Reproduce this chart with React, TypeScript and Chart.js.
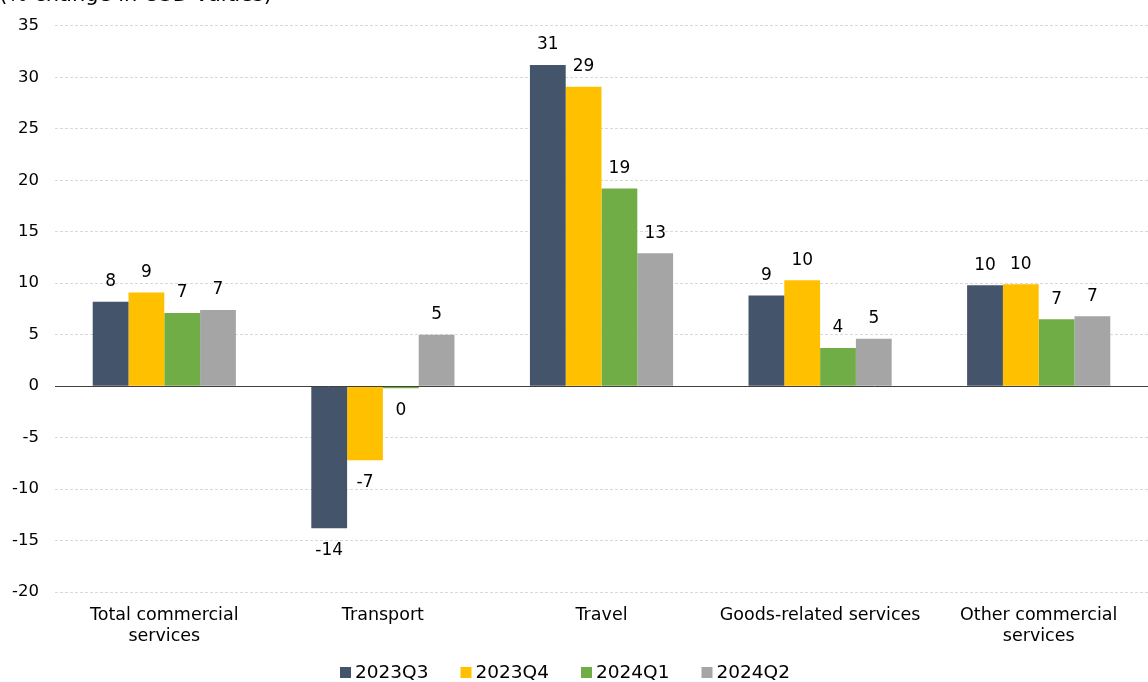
import React, { useEffect, useRef } from "react";
import { Chart, registerables } from "chart.js";

Chart.register(...registerables);

const categories: (string | string[])[] = [
  ["Total commercial", "services"],
  "Transport",
  "Travel",
  "Goods-related services",
  ["Other commercial", "services"],
];
const seriesNames = ["2023Q3", "2023Q4", "2024Q1", "2024Q2"];
const q2023Q3 = [8.2, -13.8, 31.2, 8.8, 9.8];
const q2023Q4 = [9.1, -7.2, 29.1, 10.3, 9.9];
const q2024Q1 = [7.1, -0.2, 19.2, 3.7, 6.5];
const q2024Q2 = [7.4, 5.0, 12.9, 4.6, 6.8];
const colors = ["#44546A", "#FFC000", "#70AD47", "#A5A5A5"];
const yTicks = [35, 30, 25, 20, 15, 10, 5, 0, -5, -10, -15, -20];
const titleText = "(% change in USD values)";

const FONT = "'DejaVu Sans', Verdana, sans-serif";

const labelPlugin = {
  id: "barLabels",
  afterDatasetsDraw(chart: any) {
    const ctx = chart.ctx;
    ctx.save();
    const y0 = chart.scales.y.getPixelForValue(0);
    ctx.strokeStyle = "#404040";
    ctx.lineWidth = 1;
    ctx.beginPath();
    ctx.moveTo(chart.chartArea.left, Math.round(y0) + 0.5);
    ctx.lineTo(chart.chartArea.right, Math.round(y0) + 0.5);
    ctx.stroke();
    ctx.font = `17px ${FONT}`;
    ctx.fillStyle = "#000";
    ctx.textAlign = "center";
    ctx.textBaseline = "middle";
    chart.data.datasets.forEach((ds: any, di: number) => {
      const meta = chart.getDatasetMeta(di);
      meta.data.forEach((el: any, i: number) => {
        const v = ds.data[i];
        const r = Math.round(v);
        const txt = String(r === 0 ? 0 : r);
        const y = v >= 0 ? el.y - 20 : el.y + 22;
        ctx.fillText(txt, el.x, y);
      });
    });
    ctx.restore();
  },
};

const titlePlugin = {
  id: "cutTitle",
  beforeDraw(chart: any) {
    const ctx = chart.ctx;
    ctx.save();
    ctx.font = `21px ${FONT}`;
    ctx.fillStyle = "#000";
    ctx.textAlign = "right";
    ctx.textBaseline = "alphabetic";
    ctx.fillText(titleText, 272, 1);
    ctx.restore();
  },
};

const legendPlugin = {
  id: "customLegend",
  afterDraw(chart: any) {
    const ctx = chart.ctx;
    ctx.save();
    ctx.font = `18.5px ${FONT}`;
    ctx.textAlign = "left";
    ctx.textBaseline = "middle";
    chart.data.datasets.forEach((ds: any, i: number) => {
      const bx = 340 + 120.5 * i;
      ctx.fillStyle = ds.backgroundColor;
      ctx.fillRect(bx, 667, 11, 11);
      ctx.fillStyle = "#000";
      ctx.fillText(ds.label, bx + 15, 673);
    });
    ctx.restore();
  },
};

export default function App() {
  const ref = useRef<HTMLCanvasElement>(null);
  useEffect(() => {
    if (!ref.current) return;
    const seriesData = [q2023Q3, q2023Q4, q2024Q1, q2024Q2];
    const chart = new Chart(ref.current, {
      type: "bar",
      data: {
        labels: categories,
        datasets: seriesNames.map((n, i) => ({
          label: n,
          data: seriesData[i],
          backgroundColor: colors[i],
          borderWidth: 0,
          categoryPercentage: 0.655,
          barPercentage: 1,
        })),
      },
      options: {
        animation: false,
        responsive: false,
        layout: { padding: { top: 25, left: 12, right: 0, bottom: 30 } },
        plugins: {
          legend: { display: false },
          tooltip: { enabled: false },
          title: { display: false },
        },
        scales: {
          x: {
            grid: { display: false },
            border: { display: false },
            ticks: {
              color: "#000",
              font: { family: FONT, size: 17.5, lineHeight: 1.2 },
              padding: 5,
              maxRotation: 0,
              autoSkip: false,
            },
          },
          y: {
            min: -20,
            max: 35,
            afterBuildTicks: (axis: any) => {
              axis.ticks = yTicks.map((v) => ({ value: v }));
            },
            afterFit: (axis: any) => {
              axis.width = 43;
            },
            grid: {
              drawTicks: false,
              color: (c: any) => (c.tick && c.tick.value === 0 ? "rgba(0,0,0,0)" : "#d9d9d9"),
            },
            border: { display: false, dash: [3, 2] },
            ticks: {
              color: "#000",
              font: { family: FONT, size: 16.5 },
              padding: 16,
            },
          },
        },
      },
      plugins: [titlePlugin, labelPlugin, legendPlugin],
    });
    return () => chart.destroy();
  }, []);
  return (
    <div style={{ position: "fixed", left: 0, top: 0, width: 1148, height: 682, background: "#fff" }}>
      <canvas ref={ref} width={1148} height={682} style={{ display: "block" }} />
    </div>
  );
}
